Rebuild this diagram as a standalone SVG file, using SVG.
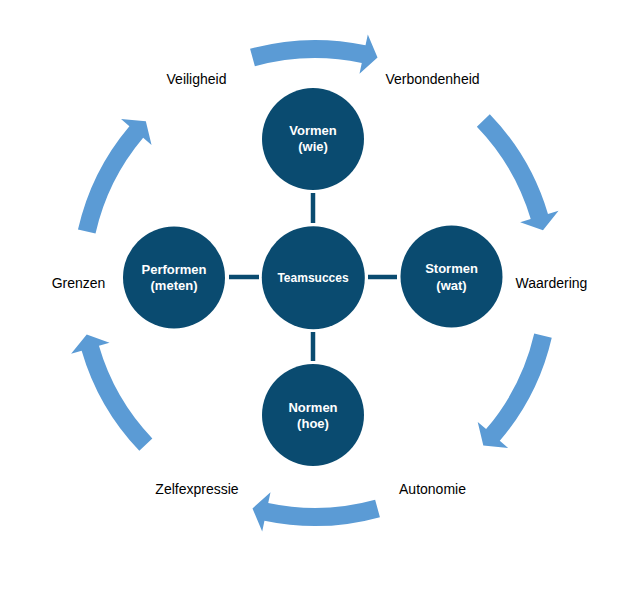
<svg xmlns="http://www.w3.org/2000/svg" xmlns:xlink="http://www.w3.org/1999/xlink" width="640" height="595" viewBox="0 0 640 595">
<style>
.node{fill:#0A4B70}
.ntext{font-family:"Liberation Sans",Arial,sans-serif;font-weight:bold;font-size:13px;fill:#FFFFFF;text-anchor:middle}
.label{font-family:"Liberation Sans",Arial,sans-serif;font-size:14px;fill:#000000;text-anchor:middle}
.conn{stroke:#0A4B70;stroke-width:4.5;fill:none}
.arrow{fill:#5B9BD5}
</style>
<defs>
<path id="carrow" class="arrow" d="M250.07,48.85 A243,243 0 0 1 365.52,45.32 L367.81,34.56 L377.52,57.52 L359.49,73.69 L361.78,62.93 A225,225 0 0 0 254.88,66.19 Z"/>
</defs>
<rect x="0" y="0" width="640" height="595" fill="#FFFFFF"/>
<g id="cycle-arrows">
<use xlink:href="#carrow" href="#carrow"/>
<use xlink:href="#carrow" href="#carrow" transform="rotate(61.5 315 283)"/>
<use xlink:href="#carrow" href="#carrow" transform="rotate(118.5 315 283)"/>
<use xlink:href="#carrow" href="#carrow" transform="rotate(180 315 283)"/>
<use xlink:href="#carrow" href="#carrow" transform="rotate(241.8 315 283)"/>
<use xlink:href="#carrow" href="#carrow" transform="rotate(298.2 315 283)"/>
</g>
<g id="connectors">
<line class="conn" x1="313" y1="193" x2="313" y2="223"/>
<line class="conn" x1="313" y1="332" x2="313" y2="361"/>
<line class="conn" x1="229" y1="277" x2="259" y2="277"/>
<line class="conn" x1="368" y1="277" x2="397" y2="277"/>
</g>
<g id="vormen">
<circle class="node" cx="313" cy="139" r="51"/>
<text class="ntext" x="313" y="135">Vormen</text>
<text class="ntext" x="313" y="151">(wie)</text>
</g>
<g id="performen">
<circle class="node" cx="174" cy="277.5" r="51"/>
<text class="ntext" x="174" y="273.5">Performen</text>
<text class="ntext" x="174" y="290">(meten)</text>
</g>
<g id="teamsucces">
<circle class="node" cx="313.3" cy="277.7" r="51.5"/>
<text class="ntext" x="313" y="282" style="font-size:12px">Teamsucces</text>
</g>
<g id="stormen">
<circle class="node" cx="451.5" cy="276.5" r="51"/>
<text class="ntext" x="451.5" y="273">Stormen</text>
<text class="ntext" x="451.5" y="289.5">(wat)</text>
</g>
<g id="normen">
<circle class="node" cx="313" cy="415" r="51"/>
<text class="ntext" x="313" y="411.5">Normen</text>
<text class="ntext" x="313" y="428">(hoe)</text>
</g>
<g id="labels">
<text class="label" x="196.5" y="84">Veiligheid</text>
<text class="label" x="432.5" y="84">Verbondenheid</text>
<text class="label" x="551.5" y="288">Waardering</text>
<text class="label" x="78.5" y="288">Grenzen</text>
<text class="label" x="432.5" y="494">Autonomie</text>
<text class="label" x="197" y="494">Zelfexpressie</text>
</g>
</svg>
